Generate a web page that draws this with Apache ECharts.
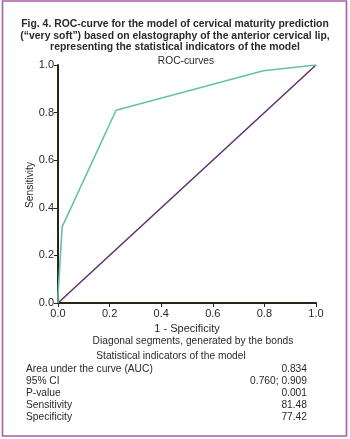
<!DOCTYPE html>
<html><head><meta charset="utf-8">
<script src="https://cdn.jsdelivr.net/npm/echarts@6/dist/echarts.min.js"></script>
<style>html,body{margin:0;padding:0;background:#fff}#c{width:350px;height:439px}</style>
</head><body><div id="c"></div>
<script>
const titleLines = [
  'Fig. 4. ROC-curve for the model of cervical maturity prediction',
  '(\u201cvery soft\u201d) based on elastography of the anterior cervical lip,',
  'representing the statistical indicators of the model'
];
const chartTitle = 'ROC-curves';
const xAxisName = '1 - Specificity';
const yAxisName = 'Sensitivity';
const noteText = 'Diagonal segments, generated by the bonds';
const tableTitle = 'Statistical indicators of the model';
const rocX = [0, 0, 0.016, 0.225, 0.796, 1];
const rocY = [0, 0.03, 0.32, 0.81, 0.976, 1];
const diagX = [0, 1];
const diagY = [0, 1];
const statNames = ['Area under the curve (AUC)', '95% CI', 'P-value', 'Sensitivity', 'Specificity'];
const statValues = ['0.834', '0.760; 0.909', '0.001', '81.48', '77.42'];

const FONT = '"Liberation Sans", Arial, sans-serif';
const TXT = '#2a2a2a';
const SX = 0.93;
const chart = echarts.init(document.getElementById('c'), null, {renderer: 'canvas'});

function txt(x, y, text, font, align) {
  return {type: 'text', x: x, y: y, scaleX: SX,
    style: {text: text, fill: TXT, font: font, textAlign: align, textVerticalAlign: 'middle'}};
}

const graphics = [
  {type: 'rect', shape: {x: 2.5, y: 1, width: 344, height: 435}, style: {fill: 'none', stroke: '#a65ea6', lineWidth: 1.6}, z: 10}
];
titleLines.forEach((t, i) => graphics.push(txt(175, 24 + i * 11.5, t, 'bold 11.2px ' + FONT, 'center')));
graphics.push(txt(186, 61, chartTitle, '11px ' + FONT, 'center'));
graphics.push({type: 'text', x: 30, y: 185, rotation: Math.PI / 2, scaleX: SX,
  style: {text: yAxisName, fill: TXT, font: '11px ' + FONT, textAlign: 'center', textVerticalAlign: 'middle'}});
graphics.push(txt(193, 341, noteText, '11px ' + FONT, 'center'));
graphics.push(txt(171, 356, tableTitle, '11px ' + FONT, 'center'));
statNames.forEach((n, i) => {
  graphics.push(txt(26, 369 + i * 12.1, n, '11px ' + FONT, 'left'));
  graphics.push(txt(307, 369 + i * 12.1, statValues[i], '11px ' + FONT, 'right'));
});

const axisCommon = {
  type: 'value', min: 0, max: 1, interval: 0.2,
  axisLine: {show: true, lineStyle: {color: '#2b2218', width: 2}},
  axisTick: {show: true, length: 4, lineStyle: {color: '#2b2218', width: 1}},
  splitLine: {show: false},
  axisLabel: {color: TXT, fontFamily: FONT, fontSize: 11, margin: 4, formatter: v => v.toFixed(1)},
  nameTextStyle: {color: TXT, fontFamily: FONT, fontSize: 11}
};

chart.setOption({
  animation: false,
  backgroundColor: '#fff',
  grid: {left: 58, right: 34, top: 65, bottom: 136, containLabel: false},
  xAxis: Object.assign({}, axisCommon, {name: xAxisName, nameLocation: 'middle', nameGap: 18,
    axisLabel: Object.assign({}, axisCommon.axisLabel, {margin: 5})}),
  yAxis: Object.assign({}, axisCommon),
  series: [
    {type: 'line', data: diagX.map((x, i) => [x, diagY[i]]), showSymbol: false, lineStyle: {color: '#5e2d6e', width: 1.5}, z: 2},
    {type: 'line', data: rocX.map((x, i) => [x, rocY[i]]), showSymbol: false, lineStyle: {color: '#66c2a3', width: 1.6}, z: 3}
  ],
  graphic: graphics
});
</script></body></html>
